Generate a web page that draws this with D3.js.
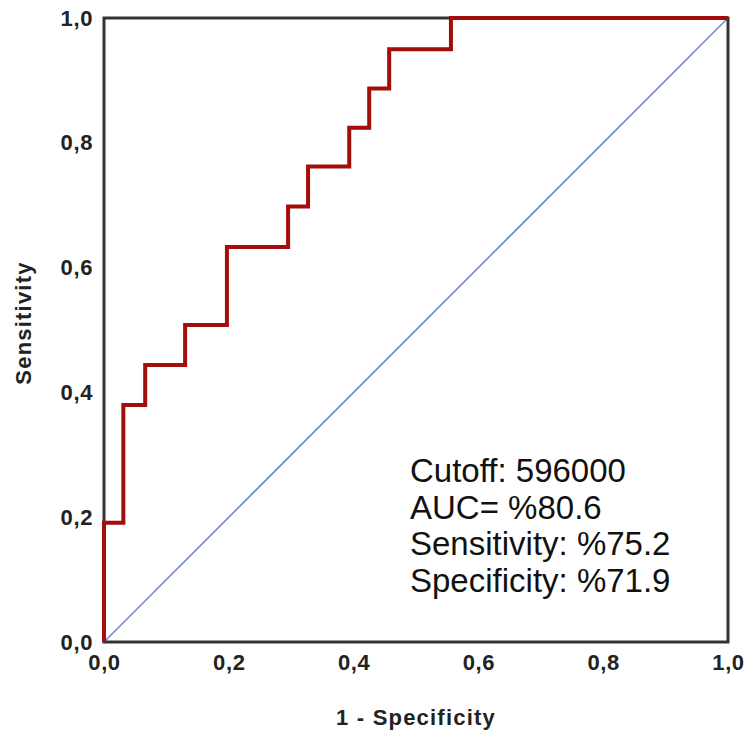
<!DOCTYPE html>
<html>
<head>
<meta charset="utf-8">
<script src="https://cdn.jsdelivr.net/npm/d3@7"></script>
<style>
  body { margin: 0; background: #fff; }
  svg { display: block; }
</style>
</head>
<body>
<div id="chart"></div>
<script>
let width = 748, height = 736;
let margin = {top: 18, right: 20, bottom: 94, left: 104};

// ROC step points (1 - specificity, sensitivity)
let fpr = [0, 0, 0.031, 0.031, 0.066, 0.066, 0.130, 0.130, 0.197, 0.197, 0.295, 0.295, 0.327, 0.327, 0.393, 0.393, 0.425, 0.425, 0.457, 0.457, 0.556, 0.556, 1.0];
let tpr = [0, 0.191, 0.191, 0.380, 0.380, 0.444, 0.444, 0.508, 0.508, 0.633, 0.633, 0.698, 0.698, 0.762, 0.762, 0.824, 0.824, 0.887, 0.887, 0.950, 0.950, 1.0, 1.0];

let tickValues = [0, 0.2, 0.4, 0.6, 0.8, 1.0];
let tickLabels = ["0,0", "0,2", "0,4", "0,6", "0,8", "1,0"];

let infoLines = ["Cutoff: 596000", "AUC= %80.6", "Sensitivity: %75.2", "Specificity: %71.9"];

let svg = d3.select("#chart")
    .append("svg")
    .attr("width", width)
    .attr("height", height);

let x = d3.scaleLinear().domain([0, 1]).range([margin.left, width - margin.right]);
let y = d3.scaleLinear().domain([0, 1]).range([height - margin.bottom, margin.top]);

let font = "'Liberation Sans', Arial, sans-serif";

// axes: labels only, no tick marks
let xAxis = svg.append("g")
    .attr("transform", "translate(0," + y(0) + ")")
    .call(d3.axisBottom(x).tickValues(tickValues).tickSize(0).tickPadding(12)
        .tickFormat((d, i) => tickLabels[i]));
xAxis.select(".domain").remove();
xAxis.selectAll("text")
    .attr("font-family", font)
    .attr("font-size", 22)
    .attr("font-weight", "bold")
    .attr("letter-spacing", 0.6)
    .attr("fill", "#222");

let yAxis = svg.append("g")
    .attr("transform", "translate(" + x(0) + ",0)")
    .call(d3.axisLeft(y).tickValues(tickValues).tickSize(0).tickPadding(11)
        .tickFormat((d, i) => tickLabels[i]));
yAxis.select(".domain").remove();
yAxis.selectAll("text")
    .attr("font-family", font)
    .attr("font-size", 22)
    .attr("font-weight", "bold")
    .attr("letter-spacing", 0.6)
    .attr("fill", "#222");

// reference diagonal
svg.append("line")
    .attr("x1", x(0)).attr("y1", y(0))
    .attr("x2", x(1)).attr("y2", y(1))
    .attr("stroke", "#6d8cc4")
    .attr("stroke-width", 1.6);

// frame
svg.append("rect")
    .attr("x", x(0)).attr("y", y(1))
    .attr("width", x(1) - x(0))
    .attr("height", y(0) - y(1))
    .attr("fill", "none")
    .attr("stroke", "#333")
    .attr("stroke-width", 3);

// ROC curve
let line = d3.line()
    .x((d, i) => x(fpr[i]))
    .y((d, i) => y(tpr[i]));

svg.append("path")
    .datum(fpr)
    .attr("d", line)
    .attr("fill", "none")
    .attr("stroke", "#a50d0d")
    .attr("stroke-width", 4)
    .attr("stroke-linejoin", "miter");

// axis titles
svg.append("text")
    .attr("x", (x(0) + x(1)) / 2)
    .attr("y", 725)
    .attr("text-anchor", "middle")
    .attr("font-family", font)
    .attr("font-size", 22)
    .attr("font-weight", "bold")
    .attr("letter-spacing", 1.2)
    .attr("fill", "#222")
    .text("1 - Specificity");

svg.append("text")
    .attr("transform", "translate(31,323) rotate(-90)")
    .attr("text-anchor", "middle")
    .attr("font-family", font)
    .attr("font-size", 22)
    .attr("font-weight", "bold")
    .attr("letter-spacing", 1.2)
    .attr("fill", "#222")
    .text("Sensitivity");

// annotation
svg.append("g")
    .selectAll("text")
    .data(infoLines)
    .enter()
    .append("text")
    .attr("x", 410)
    .attr("y", (d, i) => 482 + i * 36.5)
    .attr("font-family", font)
    .attr("font-size", 33)
    .attr("fill", "#111")
    .text(d => d);
</script>
</body>
</html>
